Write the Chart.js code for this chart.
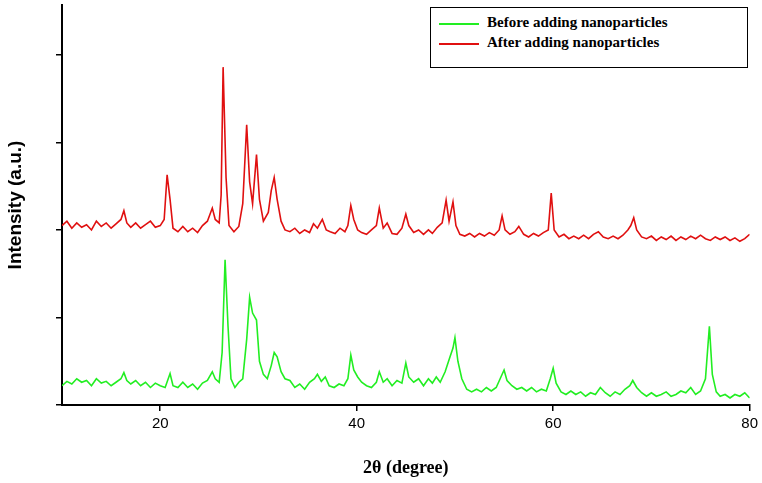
<!DOCTYPE html>
<html><head><meta charset="utf-8">
<script src="https://cdn.jsdelivr.net/npm/chart.js@4.4.0/dist/chart.umd.min.js"></script>
<style>
body{margin:0;background:#fff;}
#wrap{position:relative;width:762px;height:483px;}
#leg{position:absolute;left:430px;top:7px;width:318px;height:61px;border:1px solid #000;background:#fff;font:bold 15px "Liberation Serif";box-sizing:border-box;padding:4px 0 0 8px;}
#leg div{height:20px;line-height:20px;}
#leg span{display:inline-block;width:40px;height:0;border-top:2px solid;vertical-align:middle;margin-right:8px;}
</style></head><body>
<div id="wrap"><canvas id="c" width="762" height="483"></canvas>
<div id="leg"><div><span style="border-color:#22ee22"></span>Before adding nanoparticles</div><div><span style="border-color:#e01010"></span>After adding nanoparticles</div></div></div>
<script>
const greenX=[10,10.5,11,11.5,12,12.5,13,13.5,14,14.5,15,15.5,16,16.3,16.6,17,17.5,18,18.5,19,19.5,20,20.5,21,21.3,21.8,22.3,22.8,23.3,23.8,24.3,24.8,25.3,25.6,26,26.3,26.6,26.9,27.2,27.6,28,28.4,28.8,29.1,29.4,29.8,30.1,30.5,30.9,31.3,31.6,31.9,32.3,32.7,33.2,33.7,34.2,34.7,35.2,35.7,36,36.4,36.8,37.2,37.7,38.2,38.7,39.1,39.4,39.7,40.1,40.5,41,41.5,42,42.3,42.7,43.1,43.6,44.1,44.6,45,45.3,45.8,46.3,46.8,47.3,47.7,48.1,48.5,49,49.5,49.8,50,50.3,50.7,51.2,51.7,52.2,52.7,53.2,53.7,54.2,54.6,55,55.3,55.8,56.3,56.8,57.3,57.8,58.3,58.8,59.3,59.7,60,60.3,60.8,61.3,61.8,62.3,62.8,63.3,63.8,64.3,64.8,65.3,65.8,66.3,66.8,67.3,67.8,68.1,68.5,69,69.5,70,70.5,71,71.5,72,72.5,73,73.5,74,74.5,75,75.5,75.9,76.2,76.6,77,77.5,78,78.5,79,79.5,80];
const greenY=[0.22,0.27,0.24,0.3,0.26,0.28,0.22,0.3,0.25,0.27,0.22,0.26,0.3,0.37,0.28,0.24,0.28,0.22,0.26,0.2,0.25,0.22,0.2,0.36,0.22,0.2,0.26,0.2,0.24,0.18,0.25,0.28,0.38,0.3,0.26,0.6,1.66,0.9,0.3,0.2,0.26,0.3,0.75,1.23,1.05,0.97,0.5,0.35,0.3,0.45,0.6,0.55,0.38,0.3,0.28,0.2,0.24,0.18,0.26,0.3,0.35,0.27,0.32,0.22,0.2,0.24,0.22,0.3,0.57,0.4,0.32,0.26,0.22,0.2,0.26,0.38,0.26,0.3,0.22,0.28,0.25,0.48,0.32,0.26,0.3,0.22,0.3,0.25,0.32,0.26,0.38,0.55,0.65,0.77,0.5,0.3,0.18,0.15,0.18,0.15,0.2,0.16,0.2,0.3,0.4,0.28,0.22,0.18,0.2,0.16,0.2,0.15,0.18,0.16,0.3,0.42,0.25,0.15,0.12,0.16,0.12,0.15,0.1,0.14,0.12,0.2,0.14,0.1,0.15,0.12,0.18,0.22,0.28,0.2,0.14,0.1,0.14,0.1,0.12,0.15,0.1,0.12,0.16,0.14,0.2,0.12,0.16,0.3,0.9,0.35,0.15,0.1,0.12,0.08,0.12,0.1,0.14,0.08];
const redX=[10,10.5,11,11.5,12,12.5,13,13.5,14,14.5,15,15.5,16,16.3,16.6,17,17.5,18,18.5,19,19.5,20,20.4,20.7,21,21.3,21.8,22.3,22.8,23.3,23.8,24.3,24.8,25.3,25.6,26,26.2,26.4,26.7,27,27.5,28,28.4,28.8,29.1,29.4,29.8,30.1,30.5,31,31.3,31.6,31.9,32.3,32.7,33.2,33.7,34.2,34.7,35.2,35.6,36,36.5,36.9,37.3,37.8,38.3,38.8,39.1,39.4,39.7,40.1,40.5,41,41.5,42,42.3,42.7,43.1,43.6,44.1,44.6,45,45.3,45.8,46.3,46.8,47.3,47.7,48.2,48.7,49.1,49.4,49.8,50.1,50.5,51,51.5,52,52.5,53,53.5,54,54.5,54.8,55.1,55.6,56.1,56.5,57,57.5,58,58.5,59,59.5,59.8,60.1,60.6,61.1,61.6,62.1,62.6,63.1,63.6,64.1,64.6,65.1,65.6,66.1,66.6,67.1,67.6,67.9,68.2,68.5,69,69.5,70,70.5,71,71.5,72,72.5,73,73.5,74,74.5,75,75.5,76,76.5,77,77.5,78,78.5,79,79.5,80];
const redY=[2.05,2.1,2.02,2.08,2.03,2.06,2.0,2.1,2.04,2.08,2.02,2.07,2.12,2.22,2.08,2.03,2.08,2.02,2.06,2.1,2.03,2.05,2.12,2.63,2.35,2.02,1.98,2.04,1.98,2.02,1.97,2.05,2.1,2.25,2.12,2.08,2.4,3.86,2.6,2.05,1.98,2.04,2.3,3.2,2.55,2.3,2.86,2.35,2.1,2.2,2.45,2.6,2.35,2.1,2.0,1.98,2.02,1.96,2.0,1.97,2.07,2.02,2.12,2.0,1.98,1.96,2.02,1.98,2.05,2.28,2.12,2.0,1.97,1.95,2.0,2.05,2.25,2.02,2.08,1.96,1.95,2.02,2.18,2.05,1.97,2.0,1.95,2.0,1.96,2.03,2.08,2.34,2.1,2.32,2.05,1.95,1.93,1.96,1.92,1.96,1.93,1.97,1.94,2.0,2.16,2.0,1.95,1.98,2.04,1.95,1.92,1.96,1.93,1.97,2.0,2.42,2.0,1.92,1.95,1.9,1.93,1.9,1.94,1.9,1.95,1.98,1.92,1.9,1.93,1.9,1.94,2.0,2.05,2.14,2.0,1.92,1.9,1.93,1.88,1.92,1.89,1.93,1.88,1.92,1.89,1.93,1.9,1.94,1.9,1.88,1.92,1.89,1.92,1.88,1.91,1.87,1.9,1.95];
const xTicks=[20,40,60,80];
const yTicks=[0,1,2,3,4];
const pts=(xs,ys)=>xs.map((x,i)=>({x,y:ys[i]}));
new Chart(document.getElementById('c'),{type:'line',
data:{datasets:[
{label:'Before adding nanoparticles',data:pts(greenX,greenY),borderColor:'#22ee22',borderWidth:1.6,pointRadius:0,tension:0},
{label:'After adding nanoparticles',data:pts(redX,redY),borderColor:'#e01010',borderWidth:1.6,pointRadius:0,tension:0}]},
options:{responsive:false,animation:false,events:[],layout:{padding:{top:5,right:12,left:0,bottom:0}},
plugins:{legend:{display:false},tooltip:{enabled:false}},
scales:{
x:{type:'linear',min:10,max:80,afterBuildTicks:s=>{s.ticks=xTicks.map(v=>({value:v}));},afterFit:s=>{s.height=78;},
 border:{color:'#000',width:2},grid:{drawOnChartArea:false,color:'#000',tickLength:6,lineWidth:1.5},
 ticks:{color:'#000',font:{family:'Liberation Sans',size:15},padding:4,maxRotation:0},
 title:{display:true,text:'2θ (degree)',color:'#000',font:{family:'Liberation Serif',size:18,weight:'bold'},padding:{top:10}}},
y:{min:0,max:4.57,afterBuildTicks:s=>{s.ticks=yTicks.map(v=>({value:v}));},afterFit:s=>{s.width=62;},
 border:{color:'#000',width:2},grid:{drawOnChartArea:false,color:'#000',tickLength:6,lineWidth:1.5},
 ticks:{display:false},
 title:{display:true,text:'Intensity (a.u.)',color:'#000',font:{family:'Liberation Sans',size:19,weight:'bold'},padding:{bottom:20}}}
}}});
</script></body></html>
